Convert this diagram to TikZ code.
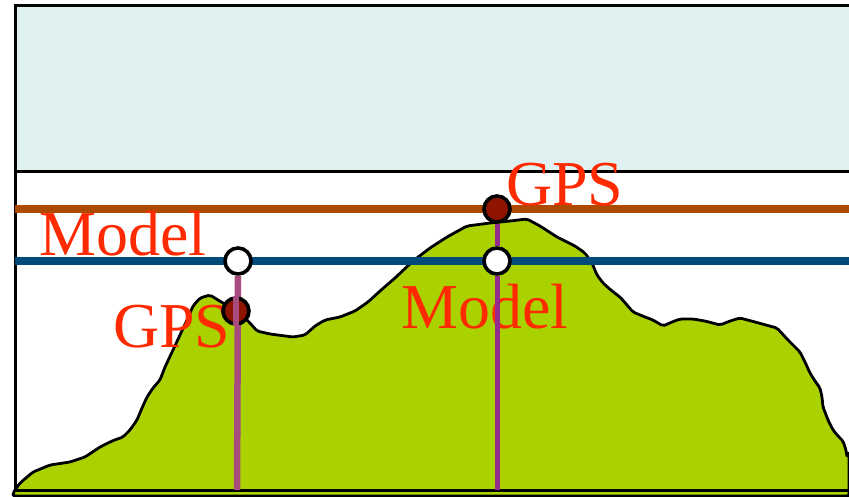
\documentclass[tikz,border=0pt]{standalone}
\usepackage{fontspec}
\setmainfont{Liberation Serif}
\definecolor{skyband}{HTML}{DFF0F0}
\definecolor{ground}{HTML}{AAD200}
\definecolor{gpslevel}{HTML}{AE4A00}
\definecolor{modellevel}{HTML}{004A7C}
\definecolor{leftpole}{HTML}{A84C7E}
\definecolor{rightpole}{HTML}{942C8E}
\definecolor{gpsdot}{HTML}{8E1400}
\definecolor{labelred}{HTML}{FF2A00}
\begin{document}
\begin{tikzpicture}[x=1pt,y=-1pt,
  frameline/.style={line width=3pt,black},
  level/.style={line width=8pt},
  marker/.style={circle,draw=black,line width=3.6pt,minimum size=26pt,inner sep=0pt},
  openmark/.style={marker,fill=white},
  gpsmark/.style={marker,fill=gpsdot},
  tag/.style={text=labelred,font=\fontsize{64}{64}\selectfont,inner sep=0pt,anchor=base west}]
\useasboundingbox (0,0) rectangle (849,496);
% sky band and frame
\fill[skyband] (15,5) rectangle (849,171);
\coordinate (tl) at (15,5);
\coordinate (tr) at (849,5);
\coordinate (ml) at (15,171);
\coordinate (mr) at (849,171);
\coordinate (bl) at (15,490);
\coordinate (br) at (849,490);
% terrain profile
\filldraw[fill=ground,draw=black,line width=2.8pt,line join=round,rounded corners=2pt]
  (13,496) -- (13,493) -- (20,483) -- (33,472) -- (50,465) -- (70,462) -- (85,457)
  -- (100,447) -- (112,441) -- (123,437) -- (130,430) -- (137,420) -- (142,408)
  -- (147,397) -- (153,388) -- (160,380) -- (165,367) -- (173,350) -- (180,335)
  -- (187,320) -- (193,306) -- (200,298) -- (210,295) -- (218,300) -- (228,306)
  -- (245,318) -- (250,323) -- (257,331) -- (270,334) -- (293,337) -- (305,335)
  -- (315,326) -- (325,320) -- (340,317) -- (355,311) -- (368,302) -- (380,291)
  -- (395,278) -- (413,261) -- (430,248) -- (447,237) -- (467,226) -- (490,223)
  -- (510,221) -- (527,219) -- (540,226) -- (557,237) -- (575,246) -- (585,253)
  -- (592,263) -- (597,275) -- (603,283) -- (612,291) -- (620,297) -- (627,305)
  -- (633,312) -- (645,317) -- (653,320) -- (663,326) -- (672,322) -- (680,319)
  -- (693,319) -- (705,321) -- (720,325) -- (730,321) -- (740,318) -- (755,322)
  -- (777,328) -- (788,340) -- (800,352) -- (805,362) -- (810,373) -- (815,381)
  -- (820,388) -- (822,397) -- (823,407) -- (828,420) -- (833,430) -- (838,436)
  -- (843,441) -- (846,450) -- (847,457) -- (849,452) -- (849,496) -- cycle;
\draw[frameline] (ml) -- (mr);
\draw[frameline] (bl) -- (br);
\draw[frameline] (bl) -- (tl) -- (tr);
% height levels
\coordinate (gpsL) at (15,209);
\coordinate (gpsR) at (849,209);
\coordinate (modL) at (15,261);
\coordinate (modR) at (849,261);
\draw[level,gpslevel] (gpsL) -- (gpsR);
\draw[level,modellevel] (modL) -- (modR);
% labels
\node[tag] (modelA) at (39,255) {Model};
\node[tag] (gpsA) at (113,347) {GPS};
\node[tag] (gpsB) at (506,205) {GPS};
\node[tag] (modelB) at (401,328) {Model};
% measurement poles and markers
\coordinate (footL) at (237,490);
\coordinate (footR) at (497,490);
\node[openmark] (openL) at (238,261) {};
\node[openmark] (openR) at (497,261) {};
\node[gpsmark] (dotR) at (497,209) {};
\draw[line width=6.5pt,leftpole] (openL.south) -- (footL);
\draw[line width=5pt,rightpole] (dotR.south) -- (openR.north);
\draw[line width=5pt,rightpole] (openR.south) -- (footR);
\node[gpsmark] (dotL) at (236,311) {};
\draw[line width=6.5pt,leftpole] (dotL.north) -- (dotL.south);
\end{tikzpicture}
\end{document}
